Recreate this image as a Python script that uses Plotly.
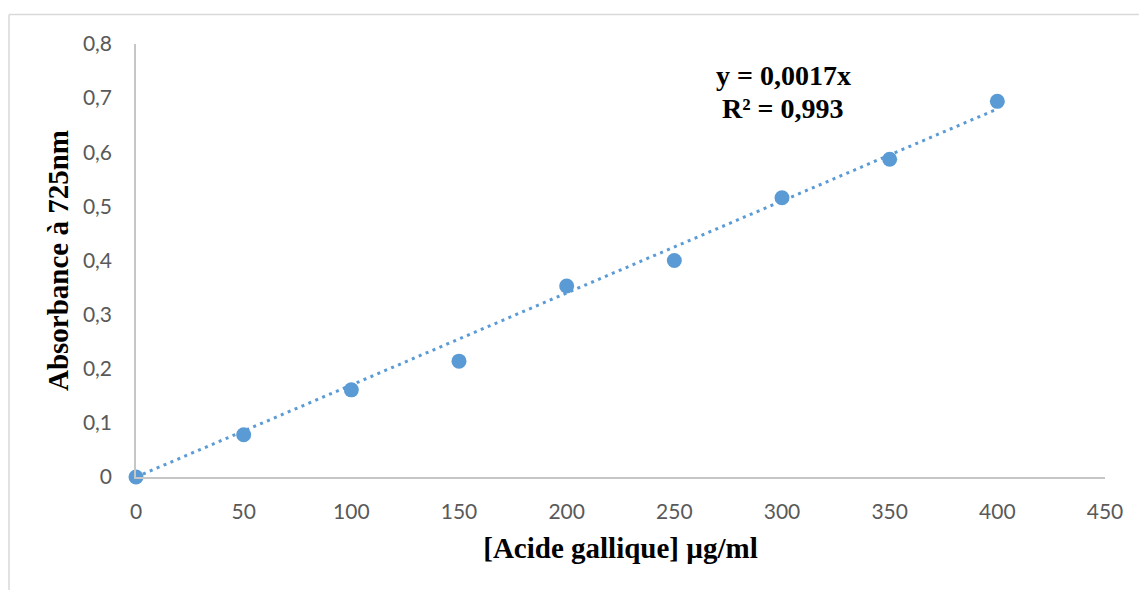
import plotly.graph_objects as go

# Data
concentration = [0, 50, 100, 150, 200, 250, 300, 350, 400]
absorbance = [0.0, 0.078, 0.161, 0.214, 0.353, 0.400, 0.516, 0.587, 0.694]
slope = 0.0017
x_ticks = [0, 50, 100, 150, 200, 250, 300, 350, 400, 450]
x_tick_labels = ["0", "50", "100", "150", "200", "250", "300", "350", "400", "450"]
y_ticks = [0, 0.1, 0.2, 0.3, 0.4, 0.5, 0.6, 0.7, 0.8]
y_tick_labels = ["0", "0,1", "0,2", "0,3", "0,4", "0,5", "0,6", "0,7", "0,8"]
equation_text = "y = 0,0017x"
r2_text = "R² = 0,993"

W, H = 1139, 590
ML, MR, MT, MB = 136, 34, 44, 113
pw, ph = W - ML - MR, H - MT - MB

blue = "#5b9bd5"
trend_x = [concentration[0], concentration[-1]]
trend_y = [slope * v for v in trend_x]

fig = go.Figure()
fig.add_trace(go.Scatter(x=trend_x, y=trend_y, mode="lines",
                         line=dict(color=blue, width=3, dash="3px,4.5px"),
                         hoverinfo="skip", showlegend=False))
fig.add_trace(go.Scatter(x=concentration, y=absorbance, mode="markers",
                         marker=dict(color=blue, size=15, line=dict(width=0)),
                         cliponaxis=False, showlegend=False))

def px_x(p):
    return (p - ML) / pw

def px_y(p):
    return (H - MB - p) / ph

border = "#d9d9d9"
fig.add_shape(type="line", xref="paper", yref="paper",
              x0=px_x(9), x1=px_x(W + 10), y0=px_y(14.5), y1=px_y(14.5),
              line=dict(color=border, width=1.5))
fig.add_shape(type="line", xref="paper", yref="paper",
              x0=px_x(9), x1=px_x(9), y0=px_y(14.5), y1=px_y(H + 10),
              line=dict(color=border, width=1.5))

ann_font = dict(family="Liberation Serif", size=28, color="black", weight="bold")
fig.add_annotation(text=equation_text, xref="paper", yref="paper",
                   x=px_x(783), y=px_y(76), showarrow=False,
                   xanchor="center", yanchor="middle", font=ann_font)
fig.add_annotation(text=r2_text, xref="paper", yref="paper",
                   x=px_x(783), y=px_y(108), showarrow=False,
                   xanchor="center", yanchor="middle", font=ann_font)

axis_line = "#c6c6c6"
tick_font = dict(family="Lato", size=21, color="#595959")
title_font = dict(family="Liberation Serif", size=29, color="black", weight="bold")

fig.update_xaxes(range=[0, 450], tickvals=x_ticks, ticktext=x_tick_labels,
                 showgrid=False, zeroline=False, showline=True,
                 linecolor=axis_line, linewidth=1.5,
                 ticks="outside", ticklen=15, tickcolor="rgba(0,0,0,0)",
                 tickfont=tick_font,
                 title=dict(text="[Acide gallique] µg/ml", font=title_font, standoff=16))
fig.update_yaxes(range=[0, 0.8], tickvals=y_ticks, ticktext=y_tick_labels,
                 showgrid=False, zeroline=False, showline=True,
                 linecolor=axis_line, linewidth=1.5,
                 ticks="outside", ticklen=18, tickcolor="rgba(0,0,0,0)",
                 tickfont=tick_font,
                 title=dict(text="Absorbance à 725nm", font=title_font, standoff=6))

fig.update_layout(width=W, height=H,
                  margin=dict(l=ML, r=MR, t=MT, b=MB, autoexpand=False),
                  paper_bgcolor="white", plot_bgcolor="white",
                  showlegend=False)

fig.write_html("out.html", config={"displayModeBar": False},
               post_script="document.body.style.margin='0';document.body.style.padding='0';")
